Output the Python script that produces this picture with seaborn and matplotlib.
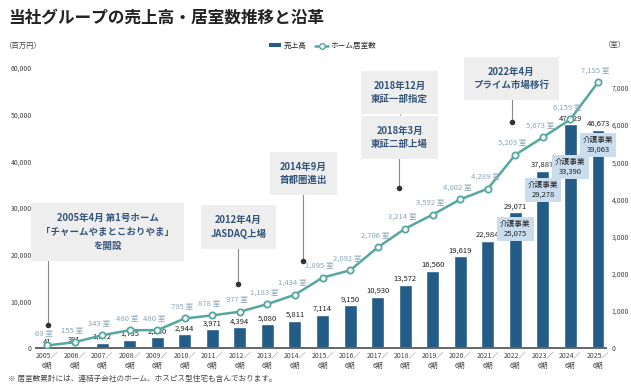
import matplotlib
matplotlib.use("Agg")
import matplotlib.pyplot as plt
from matplotlib.patches import Patch
from matplotlib.lines import Line2D
import seaborn as sns
import pandas as pd

# data
years = [f"{y}／\n6期" for y in range(2005, 2026)]
sales = [41, 391, 1172, 1755, 2280, 2944, 3971, 4394, 5080, 5811, 7114,
         9150, 10930, 13572, 16560, 19619, 22984, 29071, 37887, 47929, 46673]
rooms = [69, 155, 343, 480, 480, 795, 878, 977, 1183, 1434, 1895,
         2092, 2706, 3214, 3592, 4002, 4289, 5203, 5673, 6159, 7155]
care_idx = [17, 18, 19, 20]
care_sales = [25075, 29278, 33390, 39063]

events = ["2005年4月 第1号ホーム\n「チャームやまとこおりやま」\nを開設",
          "2012年4月\nJASDAQ上場",
          "2014年9月\n首都圏進出",
          "2018年3月\n東証二部上場",
          "2018年12月\n東証一部指定",
          "2022年4月\nプライム市場移行"]

# layout of annotation boxes (x in bar index units, y in left-axis units)
event_box = [(2.21, 24860), (6.95, 25930), (9.31, 37390), (12.8, 45100),
             (12.8, 54750), (16.86, 57750)]
event_dot = [(0.04, 4930), (6.93, 13714), (9.29, 18640), (12.78, 34290),
             None, (16.88, 48430)]
care_box_y = [25500, 33860, 38790, 43500]

BAR = "#235d87"
LINE = "#55a89f"
ROOMTXT = "#8aa6b6"
EVTXT = "#34557a"

sns.set_theme(style="white")
plt.rcParams["font.family"] = ["Noto Sans CJK JP", "DejaVu Sans"]

fig = plt.figure(figsize=(6.31, 3.86), dpi=100)
W, H = 631, 386
ax = fig.add_axes([36 / W, (H - 348) / H, (606 - 36) / W, 290 / H])

df = pd.DataFrame({"year": years, "sales": sales})
sns.barplot(data=df, x="year", y="sales", color=BAR, width=0.47,
            saturation=1, ax=ax, zorder=2)
ax.set_xlim(-0.4, 20.29)
ax.set_ylim(0, 62143)
ax.set_yticks(range(0, 60001, 10000))
ax.set_yticklabels([f"{v:,}" for v in range(0, 60001, 10000)])
ax.set_xlabel("")
ax.set_ylabel("")
for s in ["top", "right", "left"]:
    ax.spines[s].set_visible(False)
ax.spines["bottom"].set_color("#666666")
ax.spines["bottom"].set_linewidth(1.4)
ax.tick_params(axis="both", length=0, labelsize=5, colors="#444444", pad=3)
for lab in ax.get_xticklabels():
    lab.set_linespacing(1.25)

ax2 = ax.twinx()
sns.lineplot(x=list(range(len(rooms))), y=rooms, ax=ax2, color=LINE,
             linewidth=1.8, marker="o", markersize=4.5,
             markerfacecolor="white", markeredgecolor=LINE,
             markeredgewidth=1.3, zorder=3)
ax2.set_ylim(0, 7808)
ax2.set_yticks(range(0, 7001, 1000))
ax2.set_yticklabels([f"{v:,}" for v in range(0, 7001, 1000)])
for s in ["top", "right", "left", "bottom"]:
    ax2.spines[s].set_visible(False)
ax2.tick_params(axis="y", length=0, labelsize=5, colors="#444444", pad=4)
ax2.set_xlim(-0.4, 20.29)

# value labels
for i, v in enumerate(sales):
    ax.annotate(f"{v:,}", (i, v), xytext=(0, 1.5), textcoords="offset points",
                ha="center", va="bottom", fontsize=5.5, color="#222222", zorder=5)
for i, v in enumerate(rooms):
    ax2.annotate(f"{v:,} 室", (i, v), xytext=(-2, 5.5), textcoords="offset points",
                 ha="center", va="bottom", fontsize=5.5, color=ROOMTXT, zorder=5)

# care-business boxes
for i, v, yb in zip(care_idx, care_sales, care_box_y):
    ax.text(i, yb, f"介護事業\n{v:,}", ha="center", va="center", fontsize=5.5,
            color="#222222", linespacing=1.3, zorder=6,
            bbox=dict(boxstyle="square,pad=0.4", fc="#c9ddee", ec="none"))

# history events
for txt, (bx, by), dot in zip(events, event_box, event_dot):
    ax.text(bx, by, txt, ha="center", va="center", fontsize=6.8,
            fontweight="bold", color=EVTXT, linespacing=1.45, zorder=6,
            bbox=dict(boxstyle="square,pad=1.05", fc="#eeeeee", ec="none"))
    if dot is not None:
        ax.plot([dot[0], dot[0]], [dot[1], by], color="#888888", lw=0.8, zorder=1)
        ax.plot(dot[0], dot[1], "o", color="#333333", markersize=3, zorder=4)
ax.plot([12.8, 12.8], [45100, 54750], color="#bbbbbb", lw=0.8, zorder=1)

# legend
handles = [Patch(facecolor=BAR, edgecolor="none"),
           Line2D([], [], color=LINE, lw=1.8, marker="o", markersize=4,
                  markerfacecolor="white", markeredgecolor=LINE)]
fig.legend(handles, ["売上高", "ホーム居室数"], loc="center left",
           bbox_to_anchor=(262 / W, 1 - 46 / H), ncol=2, frameon=False,
           fontsize=5.5, handlelength=1.6, handleheight=0.5,
           columnspacing=1.2, handletextpad=0.3)

fig.text(8 / W, 1 - 18 / H, "当社グループの売上高・居室数推移と沿革",
         fontsize=12, fontweight="bold", color="#222222", va="center")
fig.text(5 / W, 1 - 46 / H, "（百万円）", fontsize=5.3, color="#444444", va="center")
fig.text(604 / W, 1 - 45 / H, "（室）", fontsize=5.3, color="#444444", va="center")
fig.text(8 / W, 1 - 379 / H,
         "※ 居室数累計には、連結子会社のホーム、ホスピス型住宅も含んでおります。",
         fontsize=5.5, color="#444444", va="center")

fig.savefig("out.png", dpi=100)
